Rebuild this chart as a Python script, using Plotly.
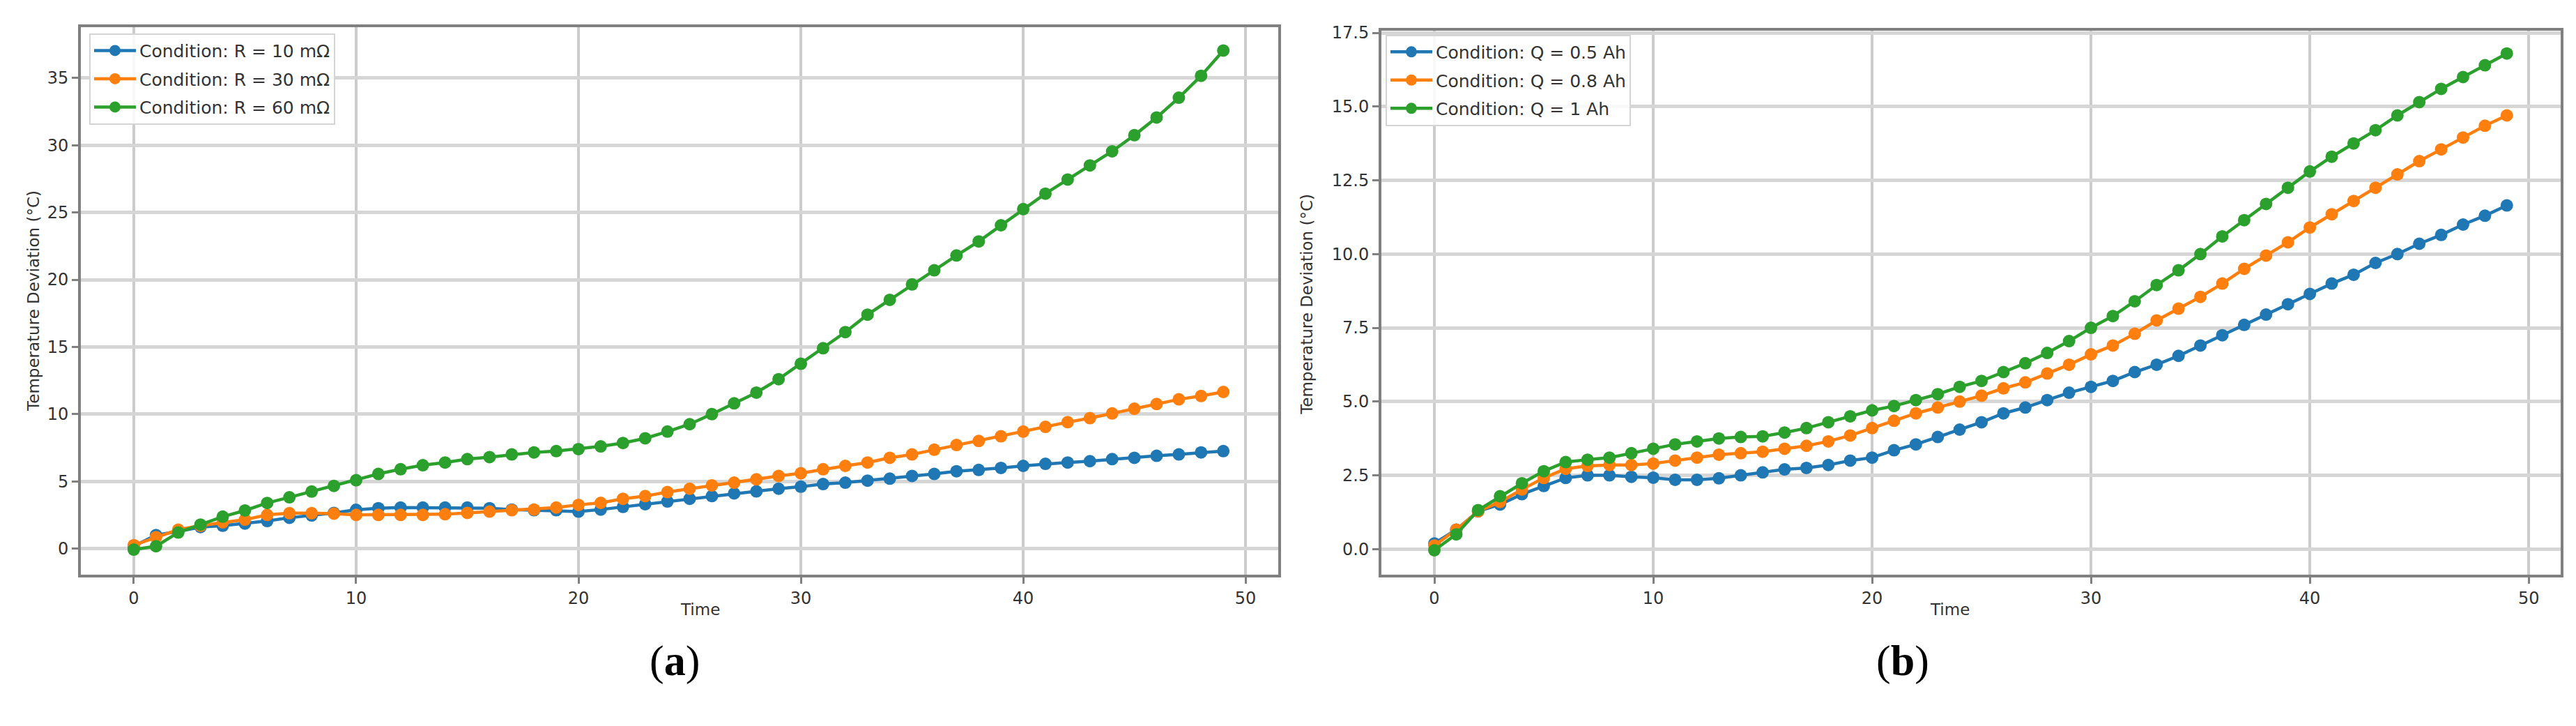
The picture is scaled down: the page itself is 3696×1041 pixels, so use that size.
import plotly.graph_objects as go

time = list(range(50))

# Panel (a): resistance conditions
r_labels = ["Condition: R = 10 mΩ", "Condition: R = 30 mΩ", "Condition: R = 60 mΩ"]
r10 = [0.17, 1.0, 1.27, 1.6, 1.7, 1.86, 2.05, 2.29, 2.46, 2.65, 2.88, 3.0, 3.05, 3.05, 3.05, 3.05, 3.0, 2.9, 2.85, 2.85,
       2.75, 2.9, 3.1, 3.3, 3.5, 3.7, 3.9, 4.1, 4.25, 4.45, 4.6, 4.8, 4.9, 5.05, 5.2, 5.4, 5.55, 5.75, 5.85, 6.0,
       6.15, 6.3, 6.4, 6.5, 6.65, 6.75, 6.9, 7.0, 7.15, 7.25]
r30 = [0.25, 0.85, 1.4, 1.7, 1.95, 2.15, 2.5, 2.63, 2.63, 2.6, 2.5, 2.5, 2.5, 2.5, 2.55, 2.65, 2.75, 2.85, 2.9, 3.05,
       3.25, 3.4, 3.7, 3.9, 4.2, 4.45, 4.7, 4.9, 5.15, 5.4, 5.6, 5.9, 6.15, 6.4, 6.75, 7.0, 7.35, 7.7, 8.0, 8.35,
       8.7, 9.05, 9.4, 9.7, 10.05, 10.4, 10.75, 11.1, 11.35, 11.65]
r60 = [-0.08, 0.17, 1.19, 1.78, 2.37, 2.83, 3.39, 3.81, 4.24, 4.66, 5.08, 5.55, 5.9, 6.2, 6.4, 6.65, 6.8, 7.0, 7.15, 7.25,
       7.4, 7.6, 7.85, 8.2, 8.7, 9.25, 10.0, 10.8, 11.6, 12.6, 13.75, 14.9, 16.1, 17.4, 18.5, 19.65, 20.7, 21.8, 22.85, 24.05,
       25.25, 26.4, 27.45, 28.5, 29.55, 30.75, 32.07, 33.54, 35.17, 37.05]

# Panel (b): capacity conditions
q_labels = ["Condition: Q = 0.5 Ah", "Condition: Q = 0.8 Ah", "Condition: Q = 1 Ah"]
q05 = [0.19, 0.66, 1.28, 1.51, 1.86, 2.14, 2.41, 2.5, 2.5, 2.45, 2.42, 2.35, 2.35, 2.4, 2.5, 2.6, 2.7, 2.75, 2.85, 3.0,
       3.1, 3.35, 3.55, 3.8, 4.05, 4.3, 4.6, 4.8, 5.05, 5.3, 5.5, 5.7, 6.0, 6.25, 6.55, 6.9, 7.25, 7.6, 7.95, 8.3,
       8.65, 9.0, 9.3, 9.7, 10.0, 10.35, 10.65, 11.0, 11.3, 11.65]
q08 = [0.12, 0.66, 1.28, 1.6, 2.02, 2.41, 2.72, 2.82, 2.85, 2.85, 2.9, 3.0, 3.1, 3.2, 3.25, 3.3, 3.4, 3.5, 3.65, 3.85,
       4.1, 4.35, 4.6, 4.8, 5.0, 5.2, 5.45, 5.65, 5.95, 6.25, 6.6, 6.9, 7.3, 7.75, 8.15, 8.55, 9.0, 9.5, 9.95, 10.4,
       10.9, 11.35, 11.8, 12.25, 12.7, 13.15, 13.55, 13.95, 14.35, 14.7]
q10 = [-0.04, 0.5, 1.32, 1.79, 2.23, 2.64, 2.95, 3.03, 3.1, 3.25, 3.4, 3.55, 3.65, 3.75, 3.8, 3.82, 3.95, 4.1, 4.3, 4.5,
       4.7, 4.85, 5.05, 5.25, 5.5, 5.7, 6.0, 6.3, 6.65, 7.05, 7.5, 7.9, 8.4, 8.95, 9.45, 10.0, 10.6, 11.15, 11.7, 12.25,
       12.8, 13.3, 13.75, 14.2, 14.7, 15.15, 15.6, 16.0, 16.4, 16.8]

colors = ["#1f77b4", "#ff7f0e", "#2ca02c"]
x_ticks = [0, 10, 20, 30, 40, 50]
ya_ticks = [0, 5, 10, 15, 20, 25, 30, 35]
yb_ticks = [0.0, 2.5, 5.0, 7.5, 10.0, 12.5, 15.0, 17.5]

FONT = "DejaVu Sans"
W, H = 3696, 1041

fig = go.Figure()
for i, (lab, ys) in enumerate(zip(r_labels, [r10, r30, r60])):
    fig.add_trace(go.Scatter(x=time, y=ys, mode="lines+markers", name=lab,
                             line=dict(color=colors[i], width=4.5),
                             marker=dict(color=colors[i], size=18, line=dict(width=0)),
                             xaxis="x", yaxis="y", legend="legend", legendgroup="a%d" % i))
for i, (lab, ys) in enumerate(zip(q_labels, [q05, q08, q10])):
    fig.add_trace(go.Scatter(x=time, y=ys, mode="lines+markers", name=lab,
                             line=dict(color=colors[i], width=4.5),
                             marker=dict(color=colors[i], size=18, line=dict(width=0)),
                             xaxis="x2", yaxis="y2", legend="legend2", legendgroup="b%d" % i))

axis_common = dict(showline=True, mirror=True, linecolor="#808080", linewidth=4,
                   ticks="outside", ticklen=9, tickwidth=3, tickcolor="#808080",
                   zeroline=False, tickfont=dict(family=FONT, size=24, color="#333333"))

legend_common = dict(xanchor="left", yanchor="top",
                     bgcolor="rgba(255,255,255,0.85)", bordercolor="#d4d4d4", borderwidth=2,
                     font=dict(family=FONT, size=25, color="#333333"), itemwidth=60,
                     tracegroupgap=5)

fig.update_layout(
    width=W, height=H,
    margin=dict(l=0, r=0, t=0, b=0),
    paper_bgcolor="white", plot_bgcolor="white",
    font=dict(family=FONT, size=24, color="#333333"),
    xaxis=dict(domain=[116 / W, 1834 / W], range=[-2.38, 51.47], tickvals=x_ticks,
               showgrid=True, gridcolor="#cccccc", gridwidth=4, anchor="y", **axis_common),
    yaxis=dict(domain=[1 - 822 / H, 1 - 29 / H], range=[-1.95, 38.8], tickvals=ya_ticks,
               showgrid=True, gridcolor="#d6d6d6", gridwidth=5, anchor="x", **axis_common),
    xaxis2=dict(domain=[1982 / W, 3674 / W], range=[-2.42, 51.46], tickvals=x_ticks,
                showgrid=True, gridcolor="#cccccc", gridwidth=4, anchor="y2", **axis_common),
    yaxis2=dict(domain=[1 - 822 / H, 1 - 34 / H], range=[-0.87, 17.58], tickvals=yb_ticks,
                tickformat=".1f",
                showgrid=True, gridcolor="#d6d6d6", gridwidth=5, anchor="x2", **axis_common),
    legend=dict(x=128 / W, y=1 - 38 / H, **legend_common),
    legend2=dict(x=1988 / W, y=1 - 40 / H, **legend_common),
    showlegend=True,
)

ann = []
# axis titles
ann.append(dict(text="Time", x=974 / W, y=1 - 888 / H, xref="paper", yref="paper",
                showarrow=False, font=dict(family=FONT, size=23, color="#333333")))
ann.append(dict(text="Time", x=2828 / W, y=1 - 888 / H, xref="paper", yref="paper",
                showarrow=False, font=dict(family=FONT, size=23, color="#333333")))
ann.append(dict(text="Temperature Deviation (°C)", x=33 / W, y=1 - 426 / H, xref="paper", yref="paper",
                showarrow=False, textangle=-90, font=dict(family=FONT, size=23, color="#333333")))
ann.append(dict(text="Temperature Deviation (°C)", x=1875 / W, y=1 - 430 / H, xref="paper", yref="paper",
                showarrow=False, textangle=-90, font=dict(family=FONT, size=23, color="#333333")))
# panel labels
ann.append(dict(text="(<b>a</b>)", x=930 / W, y=1 - 983 / H, xref="paper", yref="paper",
                showarrow=False, font=dict(family="Liberation Serif", size=62, color="black")))
ann.append(dict(text="(<b>b</b>)", x=2770 / W, y=1 - 983 / H, xref="paper", yref="paper",
                showarrow=False, font=dict(family="Liberation Serif", size=62, color="black")))
fig.update_layout(annotations=ann)

fig.write_html("out.html")
